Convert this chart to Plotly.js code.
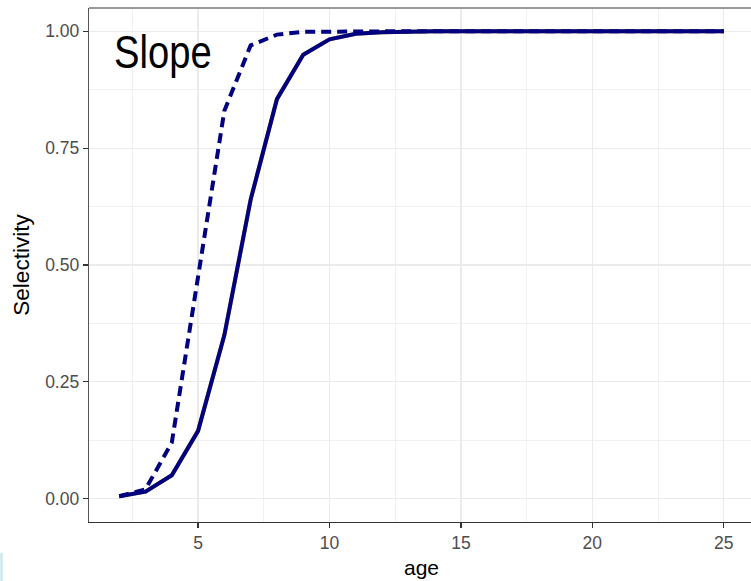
<!DOCTYPE html>
<html>
<head>
<meta charset="utf-8">
<script src="https://cdn.plot.ly/plotly-3.0.1.min.js"></script>
<style>
html,body{margin:0;padding:0;overflow:hidden;background:#fff;}
#chart{width:756px;height:581px;}
</style>
</head>
<body>
<div id="chart"></div>
<script>
const ages = [2,3,4,5,6,7,8,9,10,11,12,13,14,15,16,17,18,19,20,21,22,23,24,25];
const selSolid = [0.005,0.015,0.05,0.145,0.35,0.64,0.855,0.95,0.983,0.995,0.998,1,1,1,1,1,1,1,1,1,1,1,1,1];
const selSolidAlt = [0.005,0.015,0.05,0.145,0.35,0.64,0.855,0.95,0.983,0.995,0.998,1,1,1,1,1,1,1,1,1,1,1,1,1];
const selDashed = [0.005,0.02,0.12,0.48,0.83,0.97,0.993,0.999,1,1,1,1,1,1,1,1,1,1,1,1,1,1,1,1];
const xTicks = [5,10,15,20,25];
const yTicks = [0,0.25,0.5,0.75,1];
const yTickText = ["0.00","0.25","0.50","0.75","1.00"];
const panelLabel = "Slope";

const traces = [
  {x: ages, y: selSolidAlt, type:'scatter', mode:'lines',
   line:{color:'#DAA520', width:4}, hoverinfo:'skip', showlegend:false},
  {x: ages, y: selSolid, type:'scatter', mode:'lines',
   line:{color:'#000080', width:4}, showlegend:false},
  {x: ages, y: selDashed, type:'scatter', mode:'lines',
   line:{color:'#000080', width:4, dash:'10px,6px'}, showlegend:false}
];

const layout = {
  width: 756, height: 581,
  margin: {l:89, r:2, t:8, b:59},
  paper_bgcolor:'#ffffff', plot_bgcolor:'#ffffff',
  font: {family:'"Liberation Sans", Arial, sans-serif', color:'#4d4d4d'},
  showlegend:false,
  xaxis: {
    range:[0.85, 26.15], tickmode:'array', tickvals:xTicks,
    ticks:'outside', ticklen:5, tickwidth:1.2, tickcolor:'#333333',
    tickfont:{size:17.5, color:'#4d4d4d'},
    showgrid:true, gridcolor:'#ebebeb', gridwidth:1.3,
    minor:{dtick:2.5, tick0:0, showgrid:true, gridcolor:'#ebebeb', gridwidth:0.7, ticks:''},
    showline:true, linecolor:'#333333', linewidth:1.3,
    zeroline:false,
    title:{text:'age', font:{size:21, color:'#000000'}, standoff:8}
  },
  yaxis: {
    range:[-0.05, 1.05], tickmode:'array', tickvals:yTicks, ticktext:yTickText,
    ticks:'outside', ticklen:5, tickwidth:1.2, tickcolor:'#333333',
    tickfont:{size:17.5, color:'#4d4d4d'},
    showgrid:true, gridcolor:'#ebebeb', gridwidth:1.3,
    minor:{dtick:0.125, tick0:0, showgrid:true, gridcolor:'#ebebeb', gridwidth:0.7, ticks:''},
    showline:true, linecolor:'#555555', linewidth:1.3,
    zeroline:false,
    title:{text:'Selectivity', font:{size:22.5, color:'#000000'}, standoff:9}
  },
  shapes: [
    {type:'line', xref:'paper', yref:'paper', x0:0, x1:1, y0:1, y1:1,
     line:{color:'#999999', width:2}},
    {type:'rect', xref:'paper', yref:'paper', x0:-0.1336, x1:-0.1296, y0:-0.115, y1:-0.06, layer:'below',
     line:{width:0}, fillcolor:'#cfe9ed'}
  ],
  annotations: [
    {text: panelLabel, xref:'x', yref:'y', x:1.72, y:0.955, xanchor:'left', yanchor:'middle',
     showarrow:false, font:{family:'"Liberation Sans", Arial, sans-serif', size:46, color:'#000000'}}
  ]
};

Plotly.newPlot('chart', traces, layout, {displayModeBar:false, staticPlot:true}).then(function(gd){
  // condense the panel label horizontally (narrow face in the reference)
  const t = gd.querySelector('.annotation-text');
  if (t) {
    const bb = t.getBBox();
    const left = bb.x;
    const s = 0.83;
    t.setAttribute('transform', 'translate(' + left + ',0) scale(' + s + ',1) translate(' + (-left) + ',0)');
  }
});
</script>
</body>
</html>
